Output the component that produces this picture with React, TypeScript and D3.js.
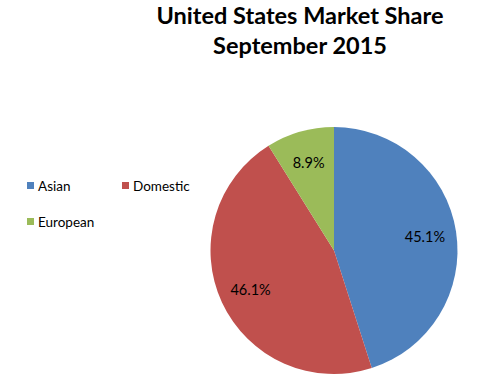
import React from "react";
import * as d3 from "d3";

const categories = ["Asian", "Domestic", "European"];
const shares = [45.1, 46.1, 8.9];
const colors = ["#4F81BD", "#C0504D", "#9BBB59"];
const titleLines = ["United States Market Share", "September 2015"];

export default function App() {
  const W = 480, H = 391;
  const cx = 334, cy = 250.5, r = 123.5;
  const data = categories.map((c, i) => ({ c, v: shares[i], col: colors[i] }));
  const pie = d3.pie<any>().sort(null).value((d: any) => d.v);
  const arcs = pie(data);
  const arc = d3.arc<any>().innerRadius(0).outerRadius(r);
  const labelArc = d3.arc<any>().innerRadius(92).outerRadius(92);
  const legendPos = [
    { x: 27, y: 186 },
    { x: 122, y: 186 },
    { x: 27, y: 222 },
  ];
  return (
    <svg width={W} height={H} style={{ position: "absolute", left: 0, top: 0, background: "#fff" }}>
      <rect width={W} height={H} fill="#fff" />
      {titleLines.map((t, i) => (
        <text key={i} x={300} y={23.5 + i * 30.5} textAnchor="middle" fontFamily="Lato, sans-serif" fontWeight="bold" fontSize={23.5} fill="#000">
          {t}
        </text>
      ))}
      <g transform={`translate(${cx},${cy})`}>
        {arcs.map((a, i) => (
          <path key={i} d={arc(a) as string} fill={a.data.col} />
        ))}
        {arcs.map((a, i) => {
          const [x, y] = labelArc.centroid(a);
          return (
            <text key={i} x={x} y={y} textAnchor="middle" dominantBaseline="central" fontFamily="Lato, sans-serif" fontSize={14.5} fill="#000">
              {a.data.v.toFixed(1)}%
            </text>
          );
        })}
      </g>
      {data.map((d, i) => (
        <g key={i}>
          <rect x={legendPos[i].x} y={legendPos[i].y - 4} width={7} height={7} fill={d.col} />
          <text x={legendPos[i].x + 11} y={legendPos[i].y} dominantBaseline="central" fontFamily="Lato, sans-serif" fontSize={13.5} fill="#000">
            {d.c}
          </text>
        </g>
      ))}
    </svg>
  );
}
